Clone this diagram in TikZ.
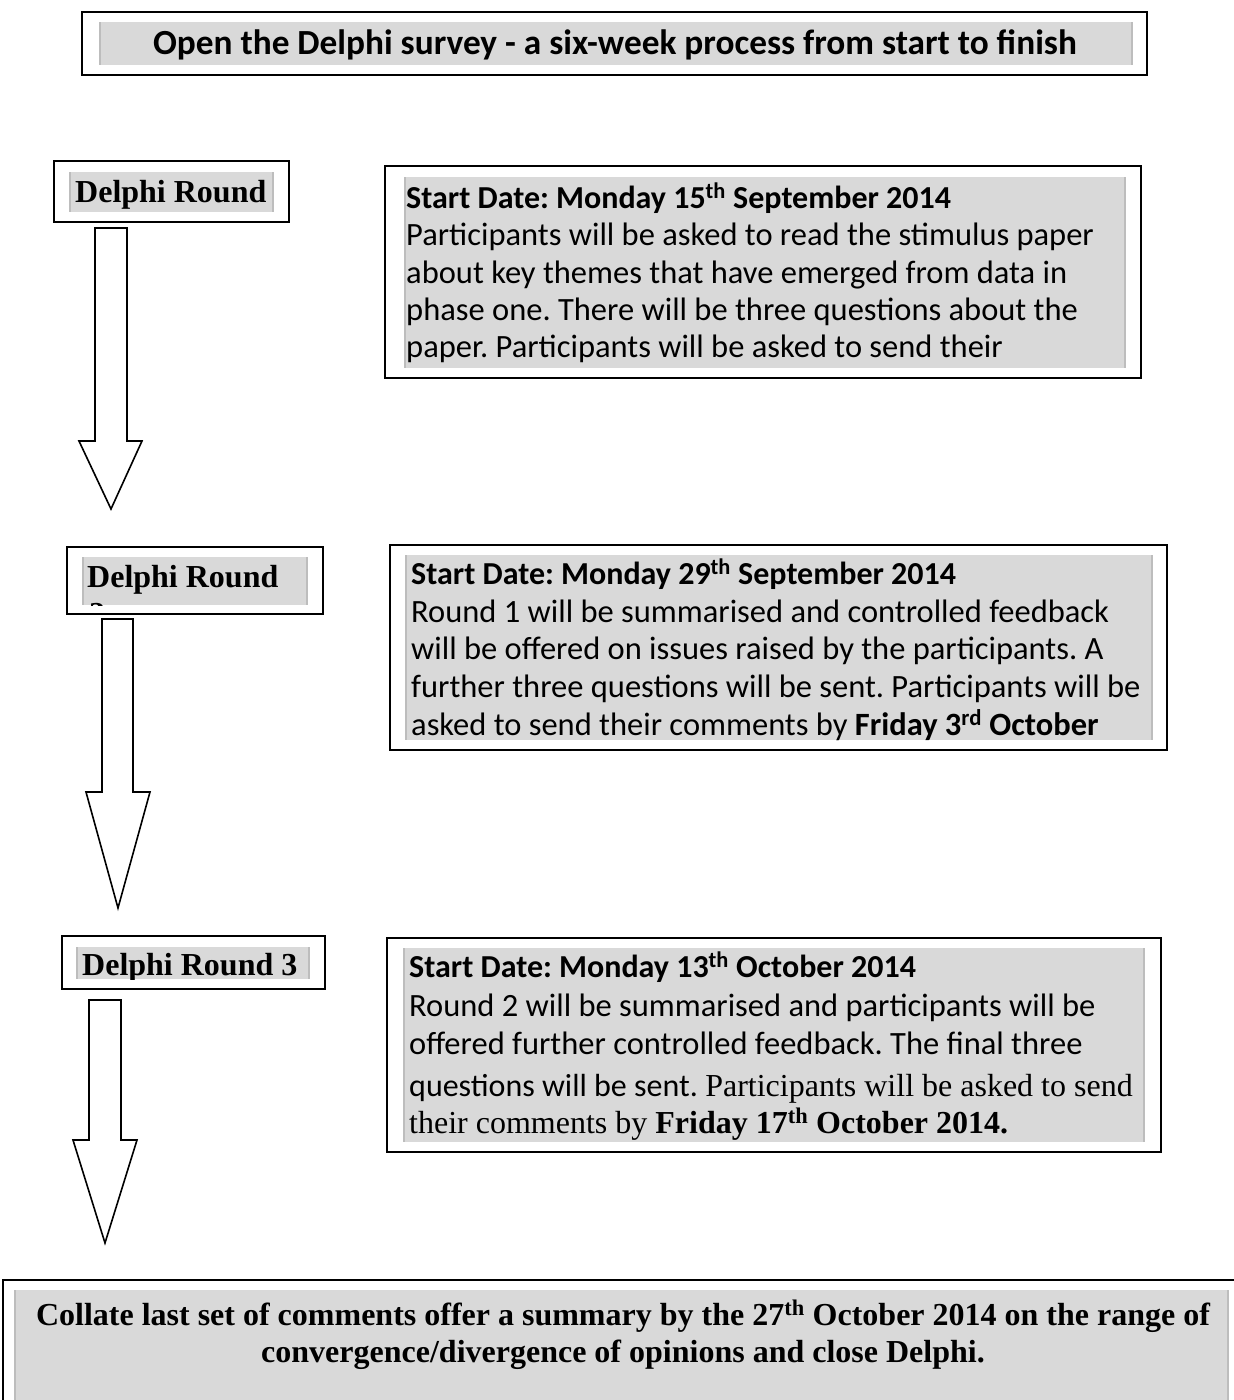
\documentclass[tikz,border=0pt]{standalone}
\usepackage{fontspec}
\setmainfont{Liberation Serif}
\newfontfamily\calibri{Carlito}
\newfontfamily\timesfont{Liberation Serif}
\definecolor{panel}{HTML}{D9D9D9}
\definecolor{paneledge}{HTML}{BDBDBD}
\frenchspacing
% grey panel with darker side edges
\newcommand\greypanel[4]{%
  \fill[panel] (#1,#2) rectangle (#3,#4);
  \draw[paneledge,line width=1.4pt] (#1,#2) -- (#1,#4) (#3,#2) -- (#3,#4);}
\newcommand\serifpart{\timesfont\fontsize{32}{37}\selectfont}
\begin{document}
\begin{tikzpicture}[x=1pt,y=-1pt,
  frame/.style={draw=black,line width=2pt},
  blockarrow/.style={draw=black,fill=white,line width=1.6pt,line join=miter},
  body/.style={anchor=base west,inner sep=0pt,font=\calibri\fontsize{32.5}{37}\selectfont},
  lead/.style={body,font=\calibri\bfseries\fontsize{32}{37}\selectfont},
  roundlabel/.style={anchor=base west,inner sep=0pt,font=\timesfont\bfseries\fontsize{32}{37}\selectfont},
  closing/.style={anchor=base,inner sep=0pt,font=\timesfont\bfseries\fontsize{32}{37}\selectfont}]
\useasboundingbox (0,0) rectangle (1234,1400);
\clip (0,0) rectangle (1234,1400);

% ---------- title ----------
\draw[frame] (82,12) rectangle (1147,75);
\greypanel{100}{22}{1132}{65}
\node[anchor=base,inner sep=0pt,font=\calibri\bfseries\fontsize{35.3}{37}\selectfont] (title) at (615,54)
  {Open the Delphi survey - a six-week process from start to finish};

% ---------- round 1 ----------
\draw[frame] (54,161) rectangle (289,222);
\greypanel{70}{172}{273}{212}
\node[roundlabel] (r1) at (75,202) {Delphi Round};

\draw[blockarrow] (95,228) -- (127,228) -- (127,441) -- (142,441) -- (111,509)
  -- (79,441) -- (95,441) -- cycle;

\draw[frame] (385,166) rectangle (1141,378);
\greypanel{405}{177}{1125}{368}
\begin{scope}
  \clip (405,177) rectangle (1125,368);
  \node[lead] (d1a) at (406,208) {Start Date: Monday 15\textsuperscript{th} September 2014};
  \node[body] (d1b) at (406,245) {Participants will be asked to read the stimulus paper};
  \node[body] (d1c) at (406,283) {about key themes that have emerged from data in};
  \node[body] (d1d) at (406,320) {phase one. There will be three questions about the};
  \node[body] (d1e) at (406,357) {paper. Participants will be asked to send their};
\end{scope}

% ---------- round 2 ----------
\draw[frame] (67,547) rectangle (323,614);
\greypanel{83}{557}{307}{605}
\begin{scope}
  \clip (83,557) rectangle (307,605);
  \node[roundlabel] (r2) at (87,587) {Delphi Round};
  \node[roundlabel] (r2n) at (89,624) {2};
\end{scope}

\draw[blockarrow] (102,619) -- (133,619) -- (133,792) -- (150,792) -- (118,908)
  -- (86,792) -- (102,792) -- cycle;

\draw[frame] (390,545) rectangle (1167,750);
\greypanel{406}{555}{1152}{740}
\begin{scope}
  \clip (406,555) rectangle (1152,740);
  \node[lead] (d2a) at (411,584) {Start Date: Monday 29\textsuperscript{th} September 2014};
  \node[body] (d2b) at (411,622) {Round 1 will be summarised and controlled feedback};
  \node[body] (d2c) at (411,659) {will be offered on issues raised by the participants. A};
  \node[body] (d2d) at (411,697) {further three questions will be sent. Participants will be};
  \node[body] (d2e) at (411,735) {asked to send their comments by \textbf{Friday 3\textsuperscript{rd} October}};
\end{scope}

% ---------- round 3 ----------
\draw[frame] (62,936) rectangle (325,989);
\greypanel{77}{947}{309}{979}
\begin{scope}
  \clip (77,947) rectangle (309,979);
  \node[roundlabel] (r3) at (82,975) {Delphi Round 3};
\end{scope}

\draw[blockarrow] (89,1000) -- (121,1000) -- (121,1140) -- (137,1140) -- (105,1243)
  -- (73,1140) -- (89,1140) -- cycle;

\draw[frame] (387,938) rectangle (1161,1152);
\greypanel{404}{948}{1144}{1142}
\begin{scope}
  \clip (404,948) rectangle (1144,1142);
  \node[lead] (d3a) at (409,977) {Start Date: Monday 13\textsuperscript{th} October 2014};
  \node[body] (d3b) at (409,1016) {Round 2 will be summarised and participants will be};
  \node[body] (d3c) at (409,1054) {offered further controlled feedback. The final three};
  \node[body,font=\calibri\fontsize{32}{37}\selectfont] (d3d) at (409,1096)
    {questions will be sent. {\serifpart Participants will be asked to send}};
  \node[body] (d3e) at (409,1133) {\serifpart their comments by \textbf{Friday 17\textsuperscript{th} October 2014.}};
\end{scope}

% ---------- close ----------
\draw[frame] (3,1280) rectangle (1250,1420);
\greypanel{15}{1290}{1228}{1420}
\node[closing] (c1) at (623,1325)
  {Collate last set of comments offer a summary by the 27\textsuperscript{th} October 2014 on the range of};
\node[closing] (c2) at (623,1362) {convergence/divergence of opinions and close Delphi.};
\end{tikzpicture}
\end{document}
